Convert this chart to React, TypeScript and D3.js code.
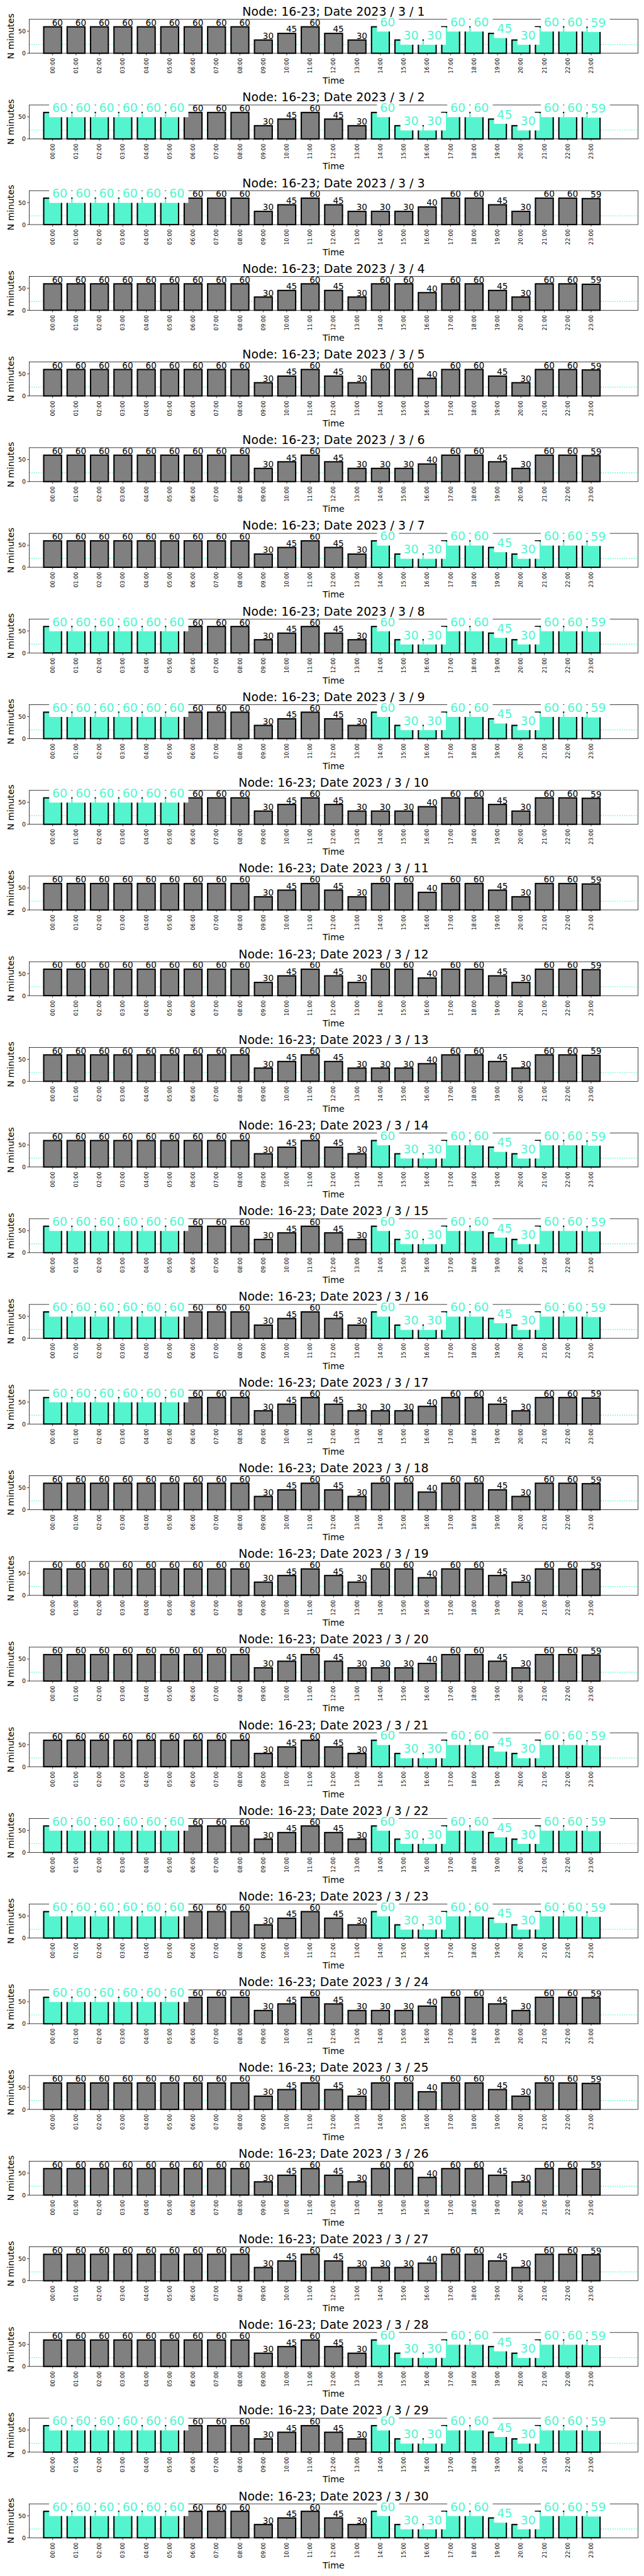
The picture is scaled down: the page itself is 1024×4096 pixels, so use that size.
import React from 'react';
import * as d3 from 'd3';

// tick labels along the time axis
const hourLabels = [
  '00:00', '01:00', '02:00', '03:00', '04:00', '05:00', '06:00', '07:00',
  '08:00', '09:00', '10:00', '11:00', '12:00', '13:00', '14:00', '15:00',
  '16:00', '17:00', '18:00', '19:00', '20:00', '21:00', '22:00', '23:00',
];

const days = [
  1, 2, 3, 4, 5, 6, 7, 8, 9, 10, 11, 12, 13, 14, 15,
  16, 17, 18, 19, 20, 21, 22, 23, 24, 25, 26, 27, 28, 29, 30,
];

// minutes per hour, the three day shapes
const minutesFlagged = [60, 60, 60, 60, 60, 60, 60, 60, 60, 30, 45, 60, 45, 30, 60, 30, 30, 60, 60, 45, 30, 60, 60, 59];
const minutesWeekday = [60, 60, 60, 60, 60, 60, 60, 60, 60, 30, 45, 60, 45, 30, 30, 30, 40, 60, 60, 45, 30, 60, 60, 59];
const minutesWeekend = [60, 60, 60, 60, 60, 60, 60, 60, 60, 30, 45, 60, 45, 30, 60, 60, 40, 60, 60, 45, 30, 60, 60, 59];

// which shape each day uses (F = flagged, D = weekday, E = weekend)
const dayShape = [
  'F', 'F', 'D', 'E', 'E', 'D', 'F', 'F', 'F', 'D', 'E', 'E', 'D', 'F', 'F',
  'F', 'D', 'E', 'E', 'D', 'F', 'F', 'F', 'D', 'E', 'E', 'D', 'F', 'F', 'F',
];

// highlighted (cyan) blocks
const morningFlagDays = [2, 3, 8, 9, 10, 15, 16, 17, 22, 23, 24, 29, 30];
const eveningFlagDays = [1, 2, 7, 8, 9, 14, 15, 16, 21, 22, 23, 28, 29, 30];
const morningHours = [0, 1, 2, 3, 4, 5];
const eveningHours = [14, 15, 16, 17, 18, 19, 20, 21, 22, 23];

const yTicks = [0, 50];
const threshold = 20;

const shapes: Record<string, number[]> = { F: minutesFlagged, D: minutesWeekday, E: minutesWeekend };

const GRAY = '#808080';
const CYAN = '#54F5CE';
const FONT = '"DejaVu Sans", sans-serif';

// layout in reference pixels (viewBox 1500x6000)
const left = 68, right = 1486, firstTop = 45, pitch = 199.55, axH = 79;
const cx = (left + right) / 2;

function DayPanel({ day, idx }: { day: number; idx: number }) {
  const top = firstTop + idx * pitch;
  const bottom = top + axH;
  const x = d3.scaleLinear().domain([-1, 25]).range([left, right]);
  const y = d3.scaleLinear().domain([0, 77]).range([bottom, top]);
  const values = shapes[dayShape[idx]];
  const barW = x(0.76) - x(0);
  const flagged = new Set<number>();
  if (morningFlagDays.includes(day)) morningHours.forEach(h => flagged.add(h));
  if (eveningFlagDays.includes(day)) eveningHours.forEach(h => flagged.add(h));

  const fsSmall = 20, fsBig = 27.8, pad = 8;

  return (
    <g>
      {/* threshold line, under the bars */}
      <line x1={left} x2={right} y1={y(threshold)} y2={y(threshold)}
        stroke={CYAN} strokeWidth={2.1} strokeDasharray="2.1 3.4" />

      {values.map((v, i) => (
        <rect key={i} x={x(i) - barW / 2} y={y(v)} width={barW} height={y(0) - y(v)}
          fill={flagged.has(i) ? CYAN : GRAY} stroke="#000" strokeWidth={3} />
      ))}

      {/* frame */}
      <rect x={left} y={top} width={right - left} height={axH} fill="none" stroke="#000" strokeWidth={1.1} />

      {/* y axis */}
      {yTicks.map(t => (
        <g key={t}>
          <line x1={left - 4.9} x2={left} y1={y(t)} y2={y(t)} stroke="#000" strokeWidth={1.1} />
          <text x={left - 8} y={y(t)} textAnchor="end" dominantBaseline="central" fontSize={13.9}>{t}</text>
        </g>
      ))}
      <text transform={`translate(${32},${(top + bottom) / 2}) rotate(-90)`} textAnchor="middle"
        fontSize={20.8}>N minutes</text>

      {/* x axis */}
      {hourLabels.map((lab, i) => (
        <g key={lab}>
          <line x1={x(i)} x2={x(i)} y1={bottom} y2={bottom + 4.9} stroke="#000" strokeWidth={1.1} />
          <text transform={`translate(${x(i)},${bottom + 11}) rotate(-90)`} textAnchor="end"
            dominantBaseline="central" fontSize={12.5}>{lab}</text>
        </g>
      ))}
      <text x={cx} y={bottom + 71} textAnchor="middle" fontSize={20.8}>Time</text>

      {/* value labels */}
      {values.map((v, i) => flagged.has(i) ? null : (
        <text key={i} x={x(i) - 1.5} y={y(v) - 2.4} fontSize={fsSmall} fill="#000">{v}</text>
      ))}
      {values.map((v, i) => {
        if (!flagged.has(i)) return null;
        const base = y(v) - 1;
        const w = String(v).length * 0.636 * fsBig;
        return (
          <g key={i}>
            <rect x={x(i) - pad} y={base - 0.76 * fsBig - pad} width={w + 2 * pad}
              height={0.76 * fsBig + 6 + 2 * pad - 2} fill="#fff" />
            <text x={x(i) - 1} y={base} fontSize={fsBig} fill={CYAN}>{v}</text>
          </g>
        );
      })}

      {/* title on top of the label boxes */}
      <text x={cx} y={top - 8.3} textAnchor="middle" fontSize={27.8} fill="#000">
        {`Node: 16-23; Date 2023 / 3 / ${day}`}
      </text>
    </g>
  );
}

export default function App() {
  return (
    <div style={{ position: 'absolute', left: 0, top: 0, width: 1024, height: 4096, background: '#fff' }}>
      <svg width={1024} height={4096} viewBox="0 0 1500 6000" fontFamily={FONT}
        style={{ display: 'block' }}>
        <rect x={0} y={0} width={1500} height={6000} fill="#fff" />
        {days.map((d, i) => <DayPanel key={d} day={d} idx={i} />)}
      </svg>
    </div>
  );
}
